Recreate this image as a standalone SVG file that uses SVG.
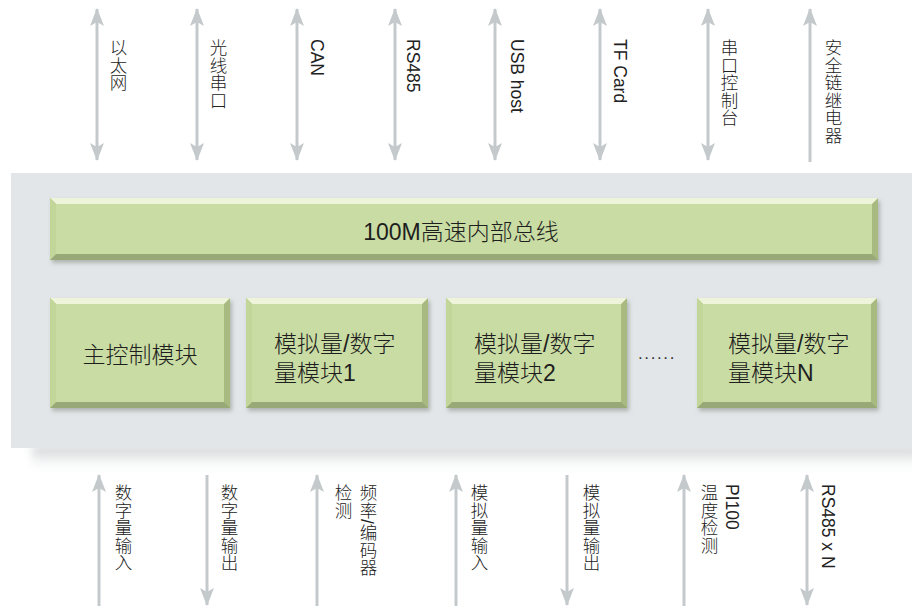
<svg xmlns="http://www.w3.org/2000/svg" width="912" height="606" viewBox="0 0 912 606">
<defs>
<style>
.lbl{font-family:"Liberation Sans","Noto Sans CJK SC",sans-serif;font-size:17.5px;font-weight:300;fill:#222;writing-mode:vertical-rl;text-orientation:mixed}
.bt{font-family:"Liberation Sans","Noto Sans CJK SC",sans-serif;font-size:23px;font-weight:300;fill:#1e1e1e}
.la{font-weight:400}
.ar{stroke:#c4c9cb;stroke-width:3;fill:none}
.hi{fill:#eef4da}
.lf{fill:#c3d699}
.rt{fill:#a8ba7f}
.bm{fill:#98a977}
.in{fill:#c9dca3}
</style>
<marker id="ah" viewBox="0 0 18 14" refX="17" refY="7" markerWidth="18" markerHeight="14" markerUnits="userSpaceOnUse" orient="auto-start-reverse">
<path d="M0,0 L18,7 L0,14 L4,7 Z" fill="#c4c9cb"/>
</marker>
<filter id="sh" x="-10%" y="-10%" width="130%" height="140%">
<feDropShadow dx="2" dy="3" stdDeviation="2" flood-color="#6f7668" flood-opacity="0.45"/>
</filter>
<filter id="blur" x="-5%" y="-50%" width="110%" height="200%">
<feGaussianBlur stdDeviation="5"/>
</filter>
<linearGradient id="pg" x1="0" y1="0" x2="0" y2="1">
<stop offset="0" stop-color="#c3c7ca"/>
<stop offset="1" stop-color="#ffffff" stop-opacity="0"/>
</linearGradient>
</defs>
<rect width="912" height="606" fill="#ffffff"/>
<g id="panel">
<rect x="32" y="446" width="890" height="26" fill="url(#pg)" filter="url(#blur)"/>
<rect x="11" y="173" width="901" height="275" fill="#e2e6e9"/>
</g>
<g id="connectors">
<line class="ar" x1="97" y1="9" x2="97" y2="160" marker-start="url(#ah)" marker-end="url(#ah)"/>
<line class="ar" x1="197" y1="9" x2="197" y2="160" marker-start="url(#ah)" marker-end="url(#ah)"/>
<line class="ar" x1="297" y1="9" x2="297" y2="160" marker-start="url(#ah)" marker-end="url(#ah)"/>
<line class="ar" x1="395" y1="9" x2="395" y2="160" marker-start="url(#ah)" marker-end="url(#ah)"/>
<line class="ar" x1="495" y1="9" x2="495" y2="160" marker-start="url(#ah)" marker-end="url(#ah)"/>
<line class="ar" x1="600" y1="9" x2="600" y2="160" marker-start="url(#ah)" marker-end="url(#ah)"/>
<line class="ar" x1="708" y1="9" x2="708" y2="160" marker-start="url(#ah)" marker-end="url(#ah)"/>
<line class="ar" x1="810" y1="9" x2="810" y2="162" marker-start="url(#ah)"/>
<line class="ar" x1="99" y1="606" x2="99" y2="475" marker-end="url(#ah)"/>
<line class="ar" x1="207" y1="475" x2="207" y2="605" marker-end="url(#ah)"/>
<line class="ar" x1="317" y1="606" x2="317" y2="475" marker-end="url(#ah)"/>
<line class="ar" x1="456" y1="606" x2="456" y2="475" marker-end="url(#ah)"/>
<line class="ar" x1="567" y1="475" x2="567" y2="605" marker-end="url(#ah)"/>
<line class="ar" x1="684" y1="606" x2="684" y2="475" marker-end="url(#ah)"/>
<line class="ar" x1="807" y1="475" x2="807" y2="605" marker-start="url(#ah)" marker-end="url(#ah)"/>
</g>
<g id="labels-top">
<text class="lbl" x="117" y="39">以太网</text>
<text class="lbl" x="217" y="39">光线串口</text>
<text class="lbl la" x="317" y="39">CAN</text>
<text class="lbl la" x="413" y="39">RS485</text>
<text class="lbl la" x="517" y="39">USB host</text>
<text class="lbl la" x="620" y="39">TF Card</text>
<text class="lbl" x="728" y="39">串口控制台</text>
<text class="lbl" x="832" y="39">安全链继电器</text>
</g>
<g id="labels-bottom">
<text class="lbl" x="122" y="484">数字量输入</text>
<text class="lbl" x="228" y="484">数字量输出</text>
<text class="lbl" x="342" y="484">检测</text>
<text class="lbl" x="367" y="484">频率<tspan class="la">/</tspan>编码器</text>
<text class="lbl" x="478" y="484">模拟量输入</text>
<text class="lbl" x="590" y="484">模拟量输出</text>
<text class="lbl" x="708" y="484">温度检测</text>
<text class="lbl la" x="732" y="484">PI100</text>
<text class="lbl la" x="828" y="484">RS485 x N</text>
</g>
<g id="bus">
<g filter="url(#sh)">
<rect class="rt" x="50" y="198" width="828" height="62"/>
<polygon class="bm" points="50,260 878,260 872,254 56,254"/>
<polygon class="hi" points="50,198 878,198 872,204 56,204"/>
<polygon class="lf" points="50,198 56,204 56,254 50,260"/>
<rect class="in" x="56" y="204" width="816" height="50"/>
</g>
<text class="bt" x="461" y="240" text-anchor="middle"><tspan class="la">100M</tspan>高速内部总线</text>
</g>
<g id="main-module">
<g filter="url(#sh)">
<rect class="rt" x="50" y="298" width="180" height="110"/>
<polygon class="bm" points="50,408 230,408 224,402 56,402"/>
<polygon class="hi" points="50,298 230,298 224,304 56,304"/>
<polygon class="lf" points="50,298 56,304 56,402 50,408"/>
<rect class="in" x="56" y="304" width="168" height="98"/>
</g>
<text class="bt" x="140" y="363" text-anchor="middle">主控制模块</text>
</g>
<g id="module-1">
<g filter="url(#sh)">
<rect class="rt" x="246" y="298" width="182" height="110"/>
<polygon class="bm" points="246,408 428,408 422,402 252,402"/>
<polygon class="hi" points="246,298 428,298 422,304 252,304"/>
<polygon class="lf" points="246,298 252,304 252,402 246,408"/>
<rect class="in" x="252" y="304" width="170" height="98"/>
</g>
<text class="bt" x="274" y="352">模拟量<tspan class="la">/</tspan>数字</text>
<text class="bt" x="274" y="381">量模块<tspan class="la">1</tspan></text>
</g>
<g id="module-2">
<g filter="url(#sh)">
<rect class="rt" x="446" y="298" width="181" height="110"/>
<polygon class="bm" points="446,408 627,408 621,402 452,402"/>
<polygon class="hi" points="446,298 627,298 621,304 452,304"/>
<polygon class="lf" points="446,298 452,304 452,402 446,408"/>
<rect class="in" x="452" y="304" width="169" height="98"/>
</g>
<text class="bt" x="474" y="352">模拟量<tspan class="la">/</tspan>数字</text>
<text class="bt" x="474" y="381">量模块<tspan class="la">2</tspan></text>
</g>
<g id="ellipsis">
<text x="657" y="359" text-anchor="middle" font-family="Liberation Sans, sans-serif" font-size="17" letter-spacing="1.6" fill="#333">......</text>
</g>
<g id="module-n">
<g filter="url(#sh)">
<rect class="rt" x="697" y="298" width="180" height="110"/>
<polygon class="bm" points="697,408 877,408 871,402 703,402"/>
<polygon class="hi" points="697,298 877,298 871,304 703,304"/>
<polygon class="lf" points="697,298 703,304 703,402 697,408"/>
<rect class="in" x="703" y="304" width="168" height="98"/>
</g>
<text class="bt" x="728" y="352">模拟量<tspan class="la">/</tspan>数字</text>
<text class="bt" x="728" y="381">量模块<tspan class="la">N</tspan></text>
</g>
</svg>
